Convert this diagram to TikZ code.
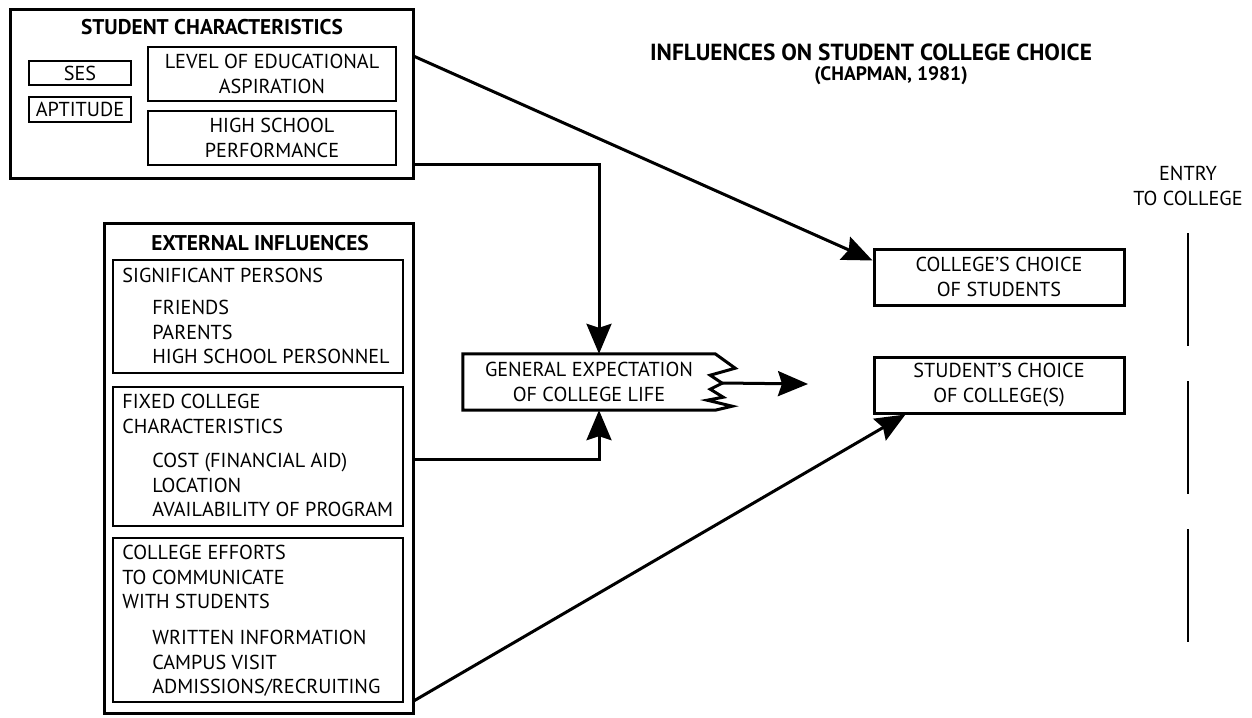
\documentclass[tikz,border=0pt]{standalone}
\usepackage{fontspec}
\setmainfont{PT Sans}
\usetikzlibrary{arrows.meta,calc,positioning}

\tikzset{
  body/.style={font=\fontsize{20.2}{24.5}\selectfont},
  heading/.style={font=\bfseries\fontsize{21.3}{24.5}\selectfont},
  outerbox/.style={draw, line width=3pt},
  innerbox/.style={draw, line width=1.6pt, align=center, inner sep=0pt},
  choicebox/.style={draw, line width=3pt, minimum width=250pt, minimum height=56pt, align=center, inner sep=0pt},
  listtext/.style={anchor=north west, align=left, inner sep=0pt},
  link/.style={line width=3pt},
  flow/.style={line width=3pt, -{Stealth[length=30pt,width=25pt,inset=4pt]}},
}

\begin{document}
\begin{tikzpicture}[x=1pt, y=-1pt, every node/.style={body}]
    \useasboundingbox (0,0) rectangle (1252,717);
    % title
    \node[font=\bfseries\fontsize{23.3}{26}\selectfont] (title) at (871,52) {INFLUENCES ON STUDENT COLLEGE CHOICE};
    \node[font=\bfseries\fontsize{19.5}{22}\selectfont] (subtitle) at (891,76) {(CHAPMAN, 1981)};
    % student characteristics
    \node[outerbox, minimum width=403pt, minimum height=168pt] (stu) at (211.5,94) {};
    \node[heading] (stuhead) at (212,27) {STUDENT CHARACTERISTICS};
    \node[innerbox, minimum width=102pt, minimum height=24pt] (ses) at (80,73) {SES};
    \node[innerbox, minimum width=102pt, minimum height=25pt] (apt) at (80,109.5) {APTITUDE};
    \node[innerbox, minimum width=248pt, minimum height=54pt] (asp) at (272,74) {LEVEL OF EDUCATIONAL\\ASPIRATION};
    \node[innerbox, minimum width=248pt, minimum height=54pt] (hsp) at (272,138) {HIGH SCHOOL\\PERFORMANCE};
    % external influences
    \node[outerbox, minimum width=309pt, minimum height=490pt] (ext) at (258.5,468) {};
    \node[heading] (exthead) at (260,243) {EXTERNAL INFLUENCES};
    \node[innerbox, minimum width=290pt, minimum height=113pt] (sig) at (258,316.5) {};
    \node[innerbox, minimum width=290pt, minimum height=139pt] (fix) at (258,456.5) {};
    \node[innerbox, minimum width=290pt, minimum height=164pt] (eff) at (258,620) {};
    \node[listtext] (sighead) at ($(sig.north west)+(10,9)$) {SIGNIFICANT PERSONS};
    \node[listtext] (sigitems) at ($(sig.north west)+(40,41)$) {FRIENDS\\PARENTS\\HIGH SCHOOL PERSONNEL};
    \node[listtext] (fixhead) at ($(fix.north west)+(10,8)$) {FIXED COLLEGE\\CHARACTERISTICS};
    \node[listtext] (fixitems) at ($(fix.north west)+(40,67)$) {COST (FINANCIAL AID)\\LOCATION\\AVAILABILITY OF PROGRAM};
    \node[listtext] (effhead) at ($(eff.north west)+(10,8)$) {COLLEGE EFFORTS\\TO COMMUNICATE\\WITH STUDENTS};
    \node[listtext] (effitems) at ($(eff.north west)+(40,93)$) {WRITTEN INFORMATION\\CAMPUS VISIT\\ADMISSIONS/RECRUITING};
    % general expectation
    \node[inner sep=0pt, minimum width=252pt, minimum height=56pt, align=center] (gen) at (589,382) {GENERAL EXPECTATION\\OF COLLEGE LIFE};
    \draw[link, line join=miter] (gen.north east) -- (gen.north west) -- (gen.south west) -- (gen.south east)
        -- ++(17,-4) -- ++(-25,-6) -- ++(16,-3) -- ++(-13,-8) -- ++(12,-6) -- ++(-12,-8) -- ++(25,-7) -- cycle;
    \coordinate (genmid) at ($(gen.east)+(7,1)$);
    \coordinate (genout) at (808,384);
    % choices
    \node[choicebox] (cchoice) at (999,277) {COLLEGE'S CHOICE\\OF STUDENTS};
    \node[choicebox] (schoice) at (999,385) {STUDENT'S CHOICE\\OF COLLEGE(S)};
    \node[align=center] (entry) at (1188,186) {ENTRY\\TO COLLEGE};
    \draw[line width=1.2pt, dash pattern=on 112.5pt off 35.5pt] (1188,233) -- (1188,643);
    % connectors
    \draw[flow] ($(stu.south east)+(0,-15)$) -| ($(gen.north)+(10,0)$);
    \draw[flow] ($(ext.east |- fix.east)+(0,3)$) -| ($(gen.south)+(10,0)$);
    \draw[flow] (genmid) -- (genout);
    \draw[flow] ($(stu.north east)+(0,48)$) -- ($(cchoice.north west)+(0,13)$);
    \draw[flow] ($(ext.south east)+(0,-14)$) -- ($(schoice.south west)+(33,0)$);
\end{tikzpicture}
\end{document}
